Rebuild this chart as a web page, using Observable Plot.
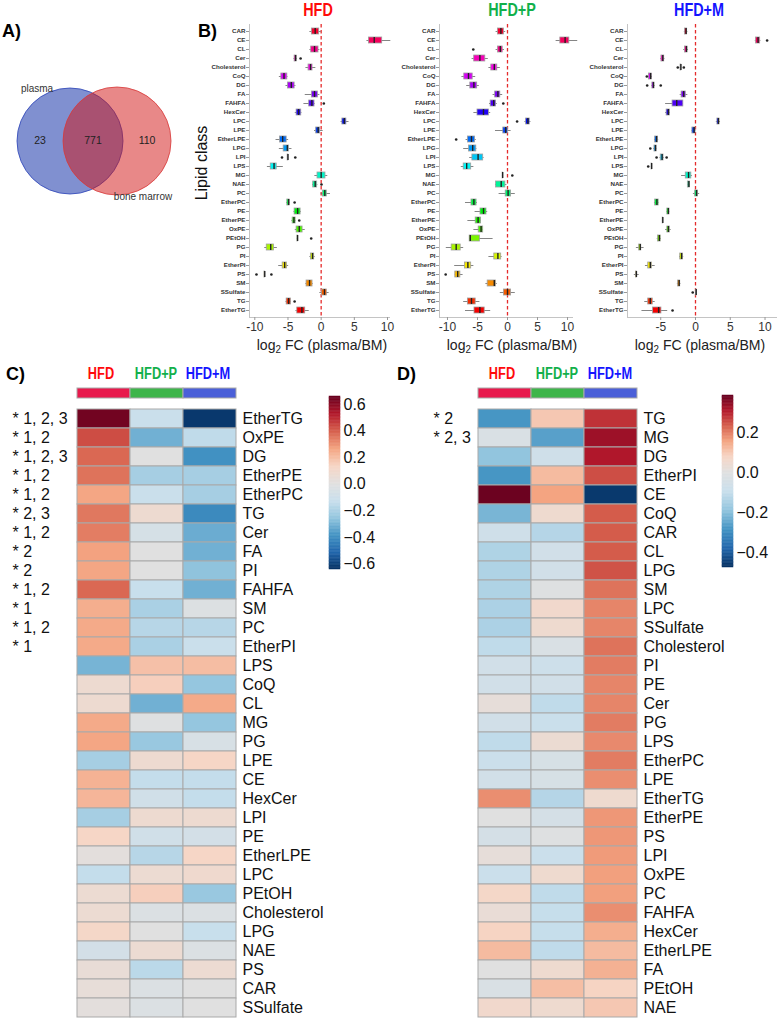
<!DOCTYPE html>
<html><head><meta charset="utf-8">
<script src="https://cdn.jsdelivr.net/npm/d3@7"></script>
<script src="https://cdn.jsdelivr.net/npm/@observablehq/plot@0.6"></script>
<style>
body{margin:0;background:#fff;}
#fig{position:relative;width:778px;height:1028px;overflow:hidden;background:#fff;font-family:"Liberation Sans",Arial,sans-serif;}
#fig svg{position:absolute;}
</style></head><body><div id="fig"></div>
<script>
// ---------------- DATA ----------------
const vennSets = ["plasma", "bone marrow"];
const vennCounts = [23, 771, 110]; // plasma only, both, bone marrow only

const groups = ["HFD", "HFD+P", "HFD+M"];
const lipidClasses = ["CAR","CE","CL","Cer","Cholesterol","CoQ","DG","FA","FAHFA","HexCer","LPC","LPE","EtherLPE","LPG","LPI","LPS","MG","NAE","PC","EtherPC","PE","EtherPE","OxPE","PEtOH","PG","PI","EtherPI","PS","SM","SSulfate","TG","EtherTG"];

// box statistics per lipid class: [whisker low, q1, median, q3, whisker high] of log2 FC (plasma/BM)
const boxHFD = [
 [-1.7,-1.4,-0.9,-0.3,0.0],[6.9,7.2,8.0,9.2,10.5],[-1.7,-1.5,-1.0,-0.4,-0.2],[-4.1,-4.0,-3.85,-3.7,-3.6],
 [-2.3,-1.9,-1.6,-1.3,-0.8],[-6.3,-6.0,-5.6,-5.1,-5.0],[-5.3,-5.0,-4.5,-4.0,-3.8],[-2.4,-1.4,-1.0,-0.5,-0.2],
 [-2.6,-1.8,-1.4,-1.0,-0.9],[-3.9,-3.7,-3.4,-3.0,-2.9],[3.0,3.2,3.5,3.8,4.2],[-1.0,-0.75,-0.45,-0.15,0.3],
 [-6.8,-6.2,-5.8,-5.2,-4.9],[-6.3,-5.65,-5.1,-4.85,-4.4],[-5.05,-5.05,-5.0,-4.95,-4.95],[-8.1,-7.6,-7.1,-6.7,-5.7],
 [-0.95,-0.55,0.0,0.65,1.0],[-1.3,-1.2,-0.9,-0.6,-0.5],[0.0,0.25,0.55,0.85,1.4],[-5.2,-5.1,-4.9,-4.75,-4.7],
 [-4.1,-4.0,-3.55,-3.1,-3.0],[-4.4,-4.3,-4.1,-3.85,-3.8],[-3.9,-3.7,-3.3,-2.8,-2.4],[-3.6,-3.58,-3.55,-3.52,-3.5],
 [-8.5,-8.2,-7.6,-7.1,-6.6],[-1.7,-1.55,-1.3,-1.05,-0.9],[-6.4,-5.8,-5.5,-5.15,-4.9],[-8.55,-8.55,-8.5,-8.45,-8.45],
 [-2.3,-2.2,-1.75,-1.3,-1.2],[-0.2,0.1,0.5,0.85,1.2],[-5.3,-5.2,-4.9,-4.55,-4.5],[-3.8,-3.6,-2.9,-2.4,-1.8]
];
const outHFD = [["Cer",-3.1],["FAHFA",0.4],["LPI",-5.9],["LPI",-3.9],["NAE",0.05],["EtherPC",-4.0],["EtherPE",-3.3],["PEtOH",-1.5],["PS",-9.75],["PS",-7.5],["TG",-4.0]];

const boxHFDP = [
 [-1.9,-1.6,-1.1,-0.6,-0.3],[8.1,8.8,9.6,10.3,11.7],[-1.9,-1.6,-1.2,-0.8,-0.5],[-5.9,-5.55,-4.6,-3.7,-3.2],
 [-3.1,-2.7,-2.2,-1.7,-1.2],[-7.6,-7.2,-6.5,-5.8,-5.3],[-6.8,-6.2,-5.6,-5.05,-4.7],[-2.4,-2.05,-1.6,-1.2,-0.8],
 [-3.0,-2.8,-2.3,-1.9,-1.7],[-5.6,-5.0,-4.0,-3.1,-2.8],[2.9,3.1,3.4,3.7,3.9],[-2.0,-0.7,-0.3,0.05,0.6],
 [-6.9,-6.6,-6.0,-5.4,-5.2],[-7.3,-6.4,-5.8,-5.2,-5.1],[-6.3,-5.85,-4.9,-4.05,-3.9],[-7.7,-7.3,-6.8,-6.05,-5.6],
 [-0.85,-0.82,-0.8,-0.78,-0.75],[-2.0,-1.9,-1.05,-0.35,-0.1],[-1.4,-0.3,0.1,0.6,1.3],[-7.0,-6.0,-5.6,-5.15,-5.0],
 [-5.4,-4.5,-4.0,-3.5,-3.3],[-6.6,-5.3,-4.9,-4.4,-4.4],[-5.6,-4.8,-4.4,-4.05,-4.0],[-6.3,-6.3,-6.2,-4.6,-2.4],
 [-10.2,-9.3,-8.55,-7.8,-7.3],[-3.1,-2.2,-1.6,-1.05,-0.9],[-8.8,-7.1,-6.6,-6.05,-5.6],[-8.7,-8.7,-8.3,-7.85,-7.4],
 [-3.6,-3.3,-2.2,-1.9,-1.7],[-1.2,-0.6,0.0,0.6,1.3],[-7.3,-6.6,-6.0,-5.3,-4.6],[-7.0,-5.5,-4.6,-3.8,-2.8]
];
const outHFDP = [["CL",-5.7],["FAHFA",-0.7],["LPC",1.6],["EtherLPE",-8.55],["MG",0.8],["PS",-10.3]];

const boxHFDM = [
 [-1.6,-1.5,-1.35,-1.2,-1.1],[8.6,8.7,9.0,9.3,9.4],[-1.7,-1.5,-1.3,-1.15,-1.0],[-5.0,-4.9,-4.7,-4.5,-4.4],
 [-2.2,-2.15,-2.1,-2.05,-2.0],[-6.8,-6.7,-6.45,-6.3,-6.2],[-6.3,-6.2,-6.05,-5.9,-5.8],[-2.2,-2.0,-1.7,-1.4,-1.1],
 [-4.3,-3.3,-2.7,-1.75,-1.75],[-4.3,-4.15,-3.9,-3.7,-3.6],[3.0,3.15,3.3,3.45,3.6],[-0.5,-0.45,-0.2,0.0,0.05],
 [-5.9,-5.8,-5.6,-5.4,-5.3],[-6.0,-5.9,-5.75,-5.6,-5.55],[-5.1,-5.0,-4.8,-4.6,-4.5],[-6.35,-6.33,-6.3,-6.27,-6.25],
 [-2.0,-1.4,-1.0,-0.6,-0.45],[-1.15,-1.1,-0.95,-0.8,-0.75],[-0.3,-0.05,0.15,0.35,0.6],[-5.9,-5.8,-5.55,-5.3,-5.25],
 [-4.1,-4.05,-3.9,-3.75,-3.7],[-4.75,-4.72,-4.7,-4.68,-4.65],[-4.3,-4.05,-3.9,-3.7,-3.5],[-5.5,-5.4,-5.2,-5.0,-4.9],
 [-8.5,-8.1,-7.95,-7.8,-7.4],[-2.3,-2.2,-2.0,-1.8,-1.7],[-7.2,-6.8,-6.5,-6.25,-5.8],[-8.8,-8.55,-8.5,-8.4,-8.1],
 [-2.6,-2.5,-2.35,-2.2,-2.1],[0.05,0.07,0.1,0.13,0.15],[-7.3,-6.8,-6.5,-6.15,-5.8],[-7.7,-6.1,-5.3,-4.9,-4.0]
];
const outHFDM = [["CE",10.3],["Cholesterol",-2.55],["Cholesterol",-1.68],["CoQ",-7.0],["DG",-6.95],["DG",-5.0],["LPG",-6.5],["LPI",-5.6],["LPI",-4.15],["LPS",-6.8],["SSulfate",-0.4],["EtherTG",-3.3]];

const xTicks1 = [-10,-5,0,5,10];
const xTicks3 = [-5,0,5,10];

// Heatmap C
const rowsC = ["EtherTG","OxPE","DG","EtherPE","EtherPC","TG","Cer","FA","PI","FAHFA","SM","PC","EtherPI","LPS","CoQ","CL","MG","PG","LPE","CE","HexCer","LPI","PE","EtherLPE","LPC","PEtOH","Cholesterol","LPG","NAE","PS","CAR","SSulfate"];
const hfdC  = [0.64,0.43,0.38,0.36,0.26,0.35,0.34,0.27,0.26,0.38,0.24,0.25,0.25,-0.30,0.08,0.08,0.25,0.26,-0.21,0.23,0.22,-0.21,0.13,0.02,-0.14,0.07,0.07,0.12,-0.07,0.05,0.04,0.02];
const hfdpC = [-0.12,-0.31,0.0,-0.21,-0.12,0.08,-0.06,0.0,0.0,-0.13,-0.20,-0.17,-0.20,0.19,0.15,-0.31,-0.01,-0.24,0.08,-0.14,-0.09,0.08,-0.09,-0.17,0.07,0.15,-0.03,0.0,0.07,-0.16,-0.03,-0.03];
const hfdmC = [-0.62,-0.15,-0.39,-0.21,-0.21,-0.41,-0.32,-0.31,-0.26,-0.31,-0.02,-0.17,-0.12,0.20,-0.25,0.25,-0.25,-0.05,0.13,-0.14,-0.14,0.08,-0.07,0.13,0.09,-0.24,-0.03,-0.13,-0.03,0.07,0.0,0.0];
const sigC = ["* 1, 2, 3","* 1, 2","* 1, 2, 3","* 1, 2","* 1, 2","* 2, 3","* 1, 2","* 2","* 2","* 1, 2","* 1","* 1, 2","* 1","","","","","","","","","","","","","","","","","","",""];
const legendC = {min: -0.64, max: 0.66, ticks: [-0.6,-0.4,-0.2,0,0.2,0.4,0.6]};

// Heatmap D
const rowsD = ["TG","MG","DG","EtherPI","CE","CoQ","CAR","CL","LPG","SM","LPC","SSulfate","Cholesterol","PI","PE","Cer","PG","LPS","EtherPC","LPE","EtherTG","EtherPE","PS","LPI","OxPE","PC","FAHFA","HexCer","EtherLPE","FA","PEtOH","NAE"];
const hfdD  = [-0.28,-0.03,-0.19,-0.28,0.38,-0.22,-0.07,-0.14,-0.14,-0.14,-0.145,-0.145,-0.11,-0.06,-0.06,0.02,-0.06,-0.11,-0.085,-0.06,0.18,0.0,-0.05,0.02,-0.085,0.07,0.03,0.08,0.12,0.0,-0.03,0.06];
const hfdpD = [0.10,-0.26,-0.07,0.12,0.155,0.05,-0.13,-0.06,-0.06,-0.01,0.06,0.05,-0.03,-0.08,-0.06,-0.11,-0.09,0.04,-0.04,-0.04,-0.13,-0.05,-0.01,-0.085,0.05,-0.11,-0.10,-0.10,-0.11,0.05,0.115,0.05];
const hfdmD = [0.28,0.33,0.31,0.25,-0.46,0.235,0.235,0.235,0.245,0.21,0.19,0.19,0.21,0.20,0.19,0.19,0.20,0.185,0.20,0.18,0.05,0.17,0.17,0.165,0.16,0.16,0.18,0.14,0.12,0.135,0.08,0.10];
const sigD = ["* 2","* 2, 3","","","","","","","","","","","","","","","","","","","","","","","","","","","","","",""];
const legendD = {min: -0.475, max: 0.385, ticks: [-0.4,-0.2,0,0.2]};

// ---------------- STYLE / LAYOUT ----------------
const SANS = '"Liberation Sans", Arial, sans-serif';
const groupColors = {"HFD": "#ff0a0a", "HFD+P": "#12b04b", "HFD+M": "#1414ff"};
const annColors = {"HFD": "#e8194c", "HFD+P": "#3db54a", "HFD+M": "#4a5fd8"};
const heatStops = ["#053061","#2166ac","#4393c3","#92c5de","#c9dfec","#e0e0e0","#f6d6c6","#f4a582","#d6604d","#b2182b","#67001f"];
const heatInterp = d3.piecewise(d3.interpolateRgb, heatStops);
const classColor = i => d3.hsl((lipidClasses.length - 1 - i) * 360 / lipidClasses.length, 1, 0.48).formatHex();

const fig = document.getElementById("fig");
function place(node, left, top) { node.style.left = left + "px"; node.style.top = top + "px"; fig.appendChild(node); return node; }
function txt(html, x, baseline, {size = 16, weight = "normal", color = "#111", anchor = "start", rotate = 0, squeeze = 1} = {}) {
  const d = document.createElement("div");
  d.innerHTML = html;
  d.style.cssText = `position:absolute;white-space:nowrap;font-family:${SANS};font-size:${size}px;font-weight:${weight};color:${color};line-height:1;`;
  if (rotate) {
    d.style.left = x + "px"; d.style.top = baseline + "px";
    d.style.transform = `translate(-50%,-50%) rotate(${rotate}deg)`;
  } else {
    d.style.left = x + "px"; d.style.top = (baseline - 0.85 * size) + "px";
    if (anchor === "middle") d.style.transform = `translateX(-50%) scaleX(${squeeze})`;
  }
  fig.appendChild(d);
}
const baseStyle = {fontFamily: SANS, background: "transparent", overflow: "visible"};

// ---------------- PANEL A: Venn ----------------
{
  const cx = [69.5, 116.5], cy = 140.5, rr = [53, 54];
  const regions = [
    {n: vennCounts[0], x: (cx[0] - rr[0] + cx[1] - rr[1]) / 2},
    {n: vennCounts[1], x: (cx[1] - rr[1] + cx[0] + rr[0]) / 2},
    {n: vennCounts[2], x: (cx[0] + rr[0] + cx[1] + rr[1]) / 2}
  ];
  const setLabels = [
    {t: vennSets[0], x: cx[0] - 33, y: cy - 52},
    {t: vennSets[1], x: cx[1] + 26, y: cy + 56}
  ];
  const p = Plot.plot({
    width: 190, height: 230, margin: 0,
    x: {domain: [0, 190], range: [0, 190], axis: null},
    y: {domain: [0, 230], range: [0, 230], axis: null},
    style: {...baseStyle},
    marks: [
      Plot.dot([vennSets[0]], {x: () => cx[0], y: () => cy, r: rr[0], fill: "#0121a1", fillOpacity: 0.5, stroke: "#2c44b8", strokeOpacity: 0.8, strokeWidth: 1}),
      Plot.dot([vennSets[1]], {x: () => cx[1], y: () => cy, r: rr[1], fill: "#d11111", fillOpacity: 0.5, stroke: "#d83a3a", strokeOpacity: 0.8, strokeWidth: 1}),
      Plot.text(regions, {x: "x", y: () => cy, text: d => String(d.n), fontSize: 10.5, fill: "#222"}),
      Plot.text(setLabels, {x: "x", y: "y", text: "t", fontSize: 10, fill: "#333"})
    ]
  });
  place(p, 0, 0);
}

// ---------------- PANEL B: box plots ----------------
function boxPanel(stats, outs, {left, width, domain, ticks}) {
  const rows = lipidClasses.map((c, i) => ({cls: c, lo: stats[i][0], q1: stats[i][1], med: stats[i][2], q3: stats[i][3], hi: stats[i][4], color: classColor(i)}));
  const outliers = outs.map(([c, v]) => ({cls: c, v}));
  const p = Plot.plot({
    width, height: 337, marginLeft: 54, marginRight: 2, marginTop: 24, marginBottom: 20,
    x: {domain, ticks, tickFormat: d => String(d)},
    y: {domain: lipidClasses, padding: 0.3},
    color: {type: "identity"},
    style: {...baseStyle},
    marks: [
      Plot.frame({anchor: "left", stroke: "#c4c4c4"}),
      Plot.frame({anchor: "bottom", stroke: "#c4c4c4"}),
      Plot.axisY({tickSize: 3, tickPadding: 1, fontSize: 6.2, fontWeight: "bold", fill: "#333", stroke: "#999", label: null}),
      Plot.axisX({ticks, tickSize: 3, tickPadding: 2, fontSize: 12, fill: "#333", stroke: "#999", label: null, tickFormat: d => String(d)}),
      Plot.ruleX([0], {stroke: "#e52b2b", strokeDasharray: "3.5,2.5", strokeWidth: 1.3}),
      Plot.ruleY(rows, {y: "cls", x1: "lo", x2: "hi", stroke: "#666", strokeWidth: 0.8}),
      Plot.barX(rows, {y: "cls", x1: "q1", x2: "q3", fill: "color", stroke: "#a0a0a0", strokeWidth: 0.8}),
      Plot.tickX(rows, {x: "med", y: "cls", stroke: "#222", strokeWidth: 1.4}),
      Plot.dot(outliers, {x: "v", y: "cls", r: 1.3, fill: "#222"})
    ]
  });
  place(p, left, 0);
}
boxPanel(boxHFD, outHFD, {left: 195, width: 196, domain: [-10.8, 10.3], ticks: xTicks1});
boxPanel(boxHFDP, outHFDP, {left: 385, width: 189, domain: [-11.33, 10.83], ticks: xTicks1});
boxPanel(boxHFDM, outHFDM, {left: 573, width: 205, domain: [-9.78, 11.65], ticks: xTicks3});

// ---------------- PANELS C & D: heatmaps ----------------
function heatmap(rows, cols, sig, legend, {left, width, marginLeft, marginRight, sigDx, legLeft}) {
  const cells = rows.flatMap((r, i) => groups.map((g, j) => ({row: r, group: g, value: cols[j][i]})));
  const color = {type: "diverging", pivot: 0, symmetric: false, domain: [legend.min, legend.max], interpolate: heatInterp};
  const ann = Plot.plot({
    width, height: 12, marginLeft, marginRight, marginTop: 1, marginBottom: 1,
    x: {domain: groups, padding: 0, axis: null},
    color: {type: "identity"},
    style: {...baseStyle},
    marks: [Plot.cell(groups, {x: d => d, fill: d => annColors[d], stroke: "#a9a9a9", strokeWidth: 1})]
  });
  place(ann, left, 387);
  const hm = Plot.plot({
    width, height: 648, marginLeft, marginRight, marginTop: 21, marginBottom: 3,
    x: {domain: groups, padding: 0, axis: null},
    y: {domain: rows, padding: 0},
    color,
    style: {...baseStyle},
    marks: [
      Plot.cell(cells, {x: "group", y: "row", fill: "value", stroke: "#a9a9a9", strokeWidth: 1}),
      Plot.axisY({anchor: "right", tickSize: 0, tickPadding: 6, fontSize: 16, fill: "#111", label: null}),
      Plot.text(rows, {y: d => d, text: (d, i) => sig[i], frameAnchor: "left", textAnchor: "start", dx: sigDx, fontSize: 16, fill: "#111"})
    ]
  });
  place(hm, left, 380);
  const n = 120, step = (legend.max - legend.min) / n;
  const stops = d3.range(n).map(k => legend.min + k * step);
  const bar = Plot.plot({
    width: 62, height: 200, marginLeft: 9, marginRight: 42,
    marginTop: legend.top, marginBottom: 200 - legend.top - legend.len,
    x: {domain: [0, 1], axis: null},
    y: {domain: [legend.min, legend.max]},
    color,
    style: {...baseStyle},
    marks: [
      Plot.rect(stops, {x1: 0, x2: 1, y1: d => d, y2: d => d + step, fill: d => d + step / 2, stroke: d => d + step / 2, strokeWidth: 0.5}),
      Plot.axisY({anchor: "right", ticks: legend.ticks, tickSize: 0, tickPadding: 3, fontSize: 16, fill: "#111", label: null})
    ]
  });
  place(bar, legLeft, 380);
}
legendC.top = 16; legendC.len = 173;
legendD.top = 15; legendD.len = 172;
heatmap(rowsC, [hfdC, hfdpC, hfdmC], sigC, legendC, {left: 0, width: 390, marginLeft: 76, marginRight: 154, sigDx: -64, legLeft: 320});
heatmap(rowsD, [hfdD, hfdpD, hfdmD], sigD, legendD, {left: 390, width: 388, marginLeft: 87, marginRight: 141, sigDx: -44, legLeft: 713});

// ---------------- TEXT ----------------
txt("A)", 2, 37, {size: 18, weight: "bold", color: "#000"});
txt("B)", 198, 37, {size: 18, weight: "bold", color: "#000"});
txt("C)", 6, 380, {size: 18, weight: "bold", color: "#000"});
txt("D)", 397, 380, {size: 18, weight: "bold", color: "#000"});
txt("Lipid class", 202, 163, {size: 16, color: "#111", rotate: -90});
[[318, "HFD"], [512, "HFD+P"], [699, "HFD+M"]].forEach(([x, g]) => txt(g, x, 16, {size: 18, weight: "bold", color: groupColors[g], anchor: "middle", squeeze: 0.8}));
[322, 512, 700].forEach(x => txt('log<span style="font-size:0.7em;position:relative;top:0.3em">2</span> FC (plasma/BM)', x, 350, {size: 14.5, color: "#222", anchor: "middle", squeeze: 0.97}));
[[101, "HFD"], [156, "HFD+P"], [208, "HFD+M"], [502, "HFD"], [557, "HFD+P"], [610, "HFD+M"]].forEach(([x, g]) => txt(g, x, 380, {size: 16, weight: "bold", color: groupColors[g], anchor: "middle", squeeze: 0.8}));
</script>
</body></html>
